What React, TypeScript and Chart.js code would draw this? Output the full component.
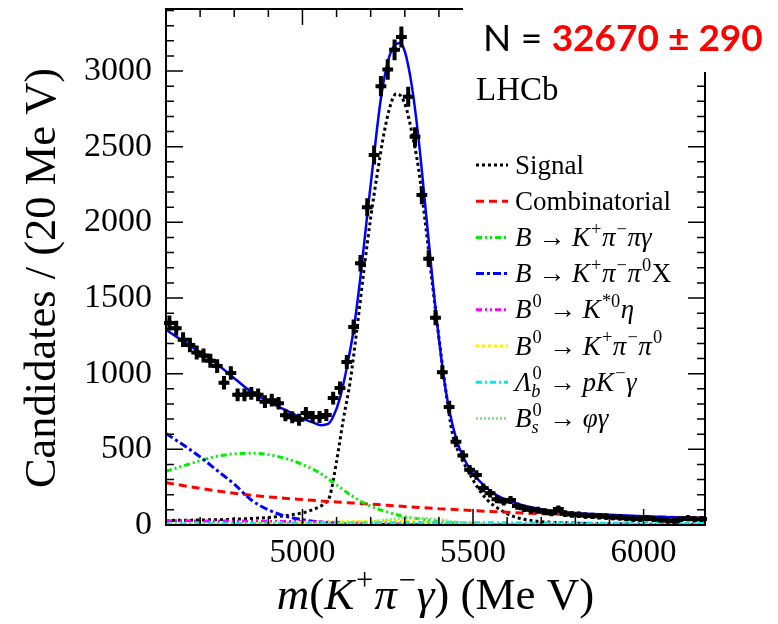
import { useEffect, useRef } from 'react';
import { Chart, registerables } from 'chart.js';

Chart.register(...registerables);

// ---------------- data ----------------
const massBins = [
  4610, 4630, 4650, 4670, 4690, 4710, 4730, 4750, 4770, 4790,
  4810, 4830, 4850, 4870, 4890, 4910, 4930, 4950, 4970, 4990,
  5010, 5030, 5050, 5070, 5090, 5110, 5130, 5150, 5170, 5190,
  5210, 5230, 5250, 5270, 5290, 5310, 5330, 5350, 5370, 5390,
  5410, 5430, 5450, 5470, 5490, 5510, 5530, 5550, 5570, 5590,
  5610, 5630, 5650, 5670, 5690, 5710, 5730, 5750, 5770, 5790,
  5810, 5830, 5850, 5870, 5890, 5910, 5930, 5950, 5970, 5990,
  6010, 6030, 6050, 6070, 6090, 6110, 6130, 6150, 6170,
];
const candidates = [
  1335, 1300, 1225, 1190, 1140, 1120, 1085, 1050, 940, 1005,
  860, 860, 870, 860, 815, 825, 805, 725, 712, 695,
  740, 714, 714, 727, 839, 905, 1077, 1309, 1730, 2100,
  2445, 2900, 3010, 3140, 3225, 2830, 2565, 2180, 1760, 1370,
  1010, 780, 550, 460, 365, 330, 245, 210, 170, 155,
  165, 125, 110, 100, 98, 88, 80, 105, 75, 70,
  68, 62, 60, 58, 55, 52, 50, 45, 42, 40,
  45, 40, 35, 30, 26, 40, 45, 38, 40,
];

const totalFitMass = [4600, 4650, 4700, 4750, 4800, 4850, 4900, 4950, 5000, 5030, 5055, 5075, 5090, 5110, 5130, 5150, 5170, 5190, 5210, 5230, 5250, 5270, 5285, 5300, 5320, 5340, 5360, 5380, 5400, 5420, 5440, 5460, 5480, 5500, 5530, 5560, 5600, 5650, 5700, 5800, 5900, 6000, 6100, 6180];
const totalFitValues = [1290, 1215, 1140, 1062, 970, 880, 815, 760, 705, 678, 660, 668, 715, 840, 1040, 1290, 1640, 2050, 2450, 2820, 3060, 3170, 3185, 3130, 2910, 2560, 2110, 1650, 1230, 890, 660, 510, 410, 340, 265, 210, 165, 128, 105, 80, 68, 58, 50, 45];

const signalMass = [4600, 4700, 4800, 4900, 4960, 5000, 5040, 5060, 5080, 5100, 5120, 5140, 5160, 5180, 5200, 5220, 5240, 5260, 5275, 5290, 5305, 5320, 5340, 5360, 5380, 5400, 5420, 5440, 5460, 5480, 5510, 5540, 5580, 5620, 5660, 5700, 5760, 5850, 6000, 6180];
const signalValues = [30, 33, 38, 50, 65, 80, 110, 135, 190, 420, 700, 950, 1300, 1680, 2030, 2330, 2600, 2790, 2850, 2830, 2750, 2600, 2360, 2000, 1610, 1240, 890, 600, 470, 380, 260, 170, 100, 55, 33, 22, 15, 10, 6, 4];

const combMass = [4600, 4700, 4800, 4900, 5000, 5100, 5200, 5300, 5400, 5500, 5600, 5700, 5800, 5900, 6000, 6100, 6180];
const combValues = [280, 242, 210, 186, 168, 152, 138, 122, 108, 95, 84, 75, 68, 61, 55, 50, 46];

const kpipigMass = [4600, 4650, 4700, 4750, 4800, 4850, 4900, 4950, 5000, 5050, 5100, 5150, 5200, 5250, 5300, 5350, 5400, 5450, 5500, 5550, 5600, 5700, 6180];
const kpipigValues = [355, 390, 425, 455, 470, 475, 465, 440, 400, 345, 265, 185, 125, 85, 55, 38, 25, 15, 9, 4, 1, 0, 0];

const kpipi0xMass = [4600, 4650, 4700, 4750, 4800, 4850, 4900, 4950, 5000, 5050, 5100, 5200, 5300, 5500, 6180];
const kpipi0xValues = [605, 530, 450, 360, 270, 165, 100, 58, 35, 20, 10, 4, 2, 0, 0];

const kstEtaMass = [4600, 4800, 5000, 5100, 5200, 5300, 5400, 5600, 6180];
const kstEtaValues = [28, 26, 22, 18, 12, 6, 2, 0, 0];

const kpipi0Mass = [4600, 4900, 5100, 5200, 5300, 5400, 5500, 5600, 6180];
const kpipi0Values = [5, 10, 20, 26, 24, 12, 4, 0, 0];

const lbMass = [4600, 5000, 5300, 5600, 5900, 6180];
const lbValues = [8, 12, 15, 14, 12, 10];

const bsMass = [4600, 5100, 5150, 5200, 5250, 5300, 5350, 5400, 5450, 5500, 5550, 5600, 6180];
const bsValues = [0, 2, 8, 20, 35, 45, 45, 35, 20, 8, 2, 0, 0];

const xTickLabels = [5000, 5500, 6000];
const yTickLabels = [0, 500, 1000, 1500, 2000, 2500, 3000];
const xMin = 4600;
const xMax = 6180;
const yMax = 3410;
const binHalfWidth = 10;

type Seg = { t: string; it?: boolean; sup?: string; sub?: string };

const legendLabels: Seg[][] = [
  [{ t: 'Signal' }],
  [{ t: 'Combinatorial' }],
  [{ t: 'B', it: true }, { t: ' → ' }, { t: 'K', it: true, sup: '+' }, { t: 'π', it: true, sup: '−' }, { t: 'πγ', it: true }],
  [{ t: 'B', it: true }, { t: ' → ' }, { t: 'K', it: true, sup: '+' }, { t: 'π', it: true, sup: '−' }, { t: 'π', it: true, sup: '0' }, { t: 'X' }],
  [{ t: 'B', it: true, sup: '0' }, { t: ' → ' }, { t: 'K', it: true, sup: '*0' }, { t: 'η', it: true }],
  [{ t: 'B', it: true, sup: '0' }, { t: ' → ' }, { t: 'K', it: true, sup: '+' }, { t: 'π', it: true, sup: '−' }, { t: 'π', it: true, sup: '0' }],
  [{ t: 'Λ', it: true, sub: 'b', sup: '0' }, { t: ' → ' }, { t: 'pK', it: true, sup: '−' }, { t: 'γ', it: true }],
  [{ t: 'B', it: true, sub: 's', sup: '0' }, { t: ' → ' }, { t: 'φγ', it: true }],
];

const xTitle: Seg[] = [
  { t: 'm', it: true }, { t: '(' }, { t: 'K', it: true, sup: '+' }, { t: 'π', it: true, sup: '−' },
  { t: 'γ', it: true }, { t: ') (Me V)' },
];
const yTitle = 'Candidates / (20 Me V)';

const SERIF = "'Liberation Serif', 'DejaVu Serif', serif";

type Style = { color: string; dash: number[]; width: number };
const styles: Style[] = [
  { color: '#000000', dash: [3, 3], width: 3 }, // signal
  { color: '#ff0000', dash: [8, 5], width: 3 }, // comb
  { color: '#00ee00', dash: [6, 3, 2, 3, 2, 3], width: 3 },
  { color: '#0000ff', dash: [8, 3, 3, 3], width: 3 },
  { color: '#ff00ff', dash: [6, 3, 2, 3, 2, 3], width: 3 },
  { color: '#ffee00', dash: [3, 3], width: 3 },
  { color: '#00e8e8', dash: [6, 3, 2, 3], width: 3 },
  { color: '#90dd90', dash: [2, 2], width: 3 },
];
const componentMasses = [signalMass, combMass, kpipigMass, kpipi0xMass, kstEtaMass, kpipi0Mass, lbMass, bsMass];
const componentValues = [signalValues, combValues, kpipigValues, kpipi0xValues, kstEtaValues, kpipi0Values, lbValues, bsValues];

function fontOf(it: boolean | undefined, size: number) {
  return `${it ? 'italic ' : ''}${size}px ${SERIF}`;
}

function segExtra(ctx: CanvasRenderingContext2D, s: Seg, F: number) {
  let sw = 0;
  if (s.sup) { ctx.font = fontOf(false, 0.68 * F); sw = Math.max(sw, ctx.measureText(s.sup).width); }
  if (s.sub) { ctx.font = fontOf(true, 0.68 * F); sw = Math.max(sw, ctx.measureText(s.sub).width); }
  return sw ? sw + 0.06 * F : 0;
}

function measureRich(ctx: CanvasRenderingContext2D, segs: Seg[], F: number) {
  let w = 0;
  for (const s of segs) {
    ctx.font = fontOf(s.it, F);
    w += ctx.measureText(s.t).width;
    w += segExtra(ctx, s, F);
  }
  return w;
}

function drawRich(ctx: CanvasRenderingContext2D, segs: Seg[], x: number, y: number, F: number, align: 'left' | 'center') {
  let cx = align === 'center' ? x - measureRich(ctx, segs, F) / 2 : x;
  ctx.textAlign = 'left';
  ctx.textBaseline = 'alphabetic';
  for (const s of segs) {
    ctx.font = fontOf(s.it, F);
    ctx.fillText(s.t, cx, y);
    cx += ctx.measureText(s.t).width;
    const extra = segExtra(ctx, s, F);
    if (s.sup) { ctx.font = fontOf(false, 0.68 * F); ctx.fillText(s.sup, cx + 0.04 * F, y - 0.42 * F); }
    if (s.sub) { ctx.font = fontOf(true, 0.68 * F); ctx.fillText(s.sub, cx + 0.0 * F, y + 0.24 * F); }
    cx += extra;
  }
}

const decorPlugin = {
  id: 'decor',
  afterDatasetsDraw(chart: any) {
    const { ctx, chartArea: a, scales } = chart;
    const x = scales.x, y = scales.y;
    ctx.save();
    // error bars
    ctx.strokeStyle = '#000';
    ctx.fillStyle = '#000';
    ctx.lineWidth = 4;
    ctx.lineCap = 'square';
    ctx.setLineDash([]);
    massBins.forEach((m, i) => {
      const v = candidates[i];
      const e = Math.sqrt(v);
      const px = x.getPixelForValue(m), py = y.getPixelForValue(v);
      ctx.beginPath();
      ctx.moveTo(x.getPixelForValue(m - binHalfWidth), py);
      ctx.lineTo(x.getPixelForValue(m + binHalfWidth), py);
      ctx.moveTo(px, y.getPixelForValue(v - e));
      ctx.lineTo(px, y.getPixelForValue(v + e));
      ctx.stroke();
    });
    ctx.lineCap = 'butt';
    // frame
    ctx.lineWidth = 2;
    ctx.strokeRect(a.left, a.top, a.right - a.left, a.bottom - a.top);
    ctx.lineWidth = 1.5;
    ctx.beginPath();
    for (let v = xMin; v <= xMax; v += 100) {
      const px = x.getPixelForValue(v);
      const len = v % 500 === 0 ? 16 : 8;
      ctx.moveTo(px, a.bottom); ctx.lineTo(px, a.bottom - len);
      ctx.moveTo(px, a.top); ctx.lineTo(px, a.top + len);
    }
    for (let v = 0; v <= yMax; v += 100) {
      const py = y.getPixelForValue(v);
      const len = v % 500 === 0 ? 17 : 8;
      ctx.moveTo(a.left, py); ctx.lineTo(a.left + len, py);
      ctx.moveTo(a.right, py); ctx.lineTo(a.right - len, py);
    }
    ctx.stroke();
    ctx.restore();
  },
  afterDraw(chart: any) {
    const { ctx, chartArea: a } = chart;
    ctx.save();
    // white patch behind the yield label
    ctx.fillStyle = '#fff';
    ctx.fillRect(463, 0, 315, 72);
    // yield label
    ctx.textBaseline = 'alphabetic';
    ctx.textAlign = 'left';
    ctx.fillStyle = '#000';
    ctx.font = "37px Lato, 'Open Sans', sans-serif";
    const nText = 'N = ';
    ctx.fillText(nText, 483, 51);
    const nw = ctx.measureText(nText).width;
    ctx.fillStyle = '#ff0000';
    ctx.font = "bold 37px Lato, 'Open Sans', sans-serif";
    ctx.fillText('32670 ± 290', 483 + nw, 51);
    // LHCb
    ctx.fillStyle = '#000';
    ctx.font = fontOf(false, 33);
    ctx.fillText('LHCb', 476, 100);
    // legend
    legendLabels.forEach((segs, i) => {
      const cy = 165 + i * 36.2;
      const st = styles[i];
      ctx.strokeStyle = st.color;
      ctx.lineWidth = st.width;
      ctx.setLineDash(st.dash);
      ctx.beginPath();
      ctx.moveTo(476, cy);
      ctx.lineTo(508, cy);
      ctx.stroke();
      ctx.setLineDash([]);
      ctx.fillStyle = '#000';
      drawRich(ctx, segs, 515, cy + 8.5, 27, 'left');
    });
    // axis titles
    ctx.fillStyle = '#000';
    drawRich(ctx, xTitle, (a.left + a.right) / 2, 609, 45, 'center');
    ctx.translate(55, 278);
    ctx.rotate(-Math.PI / 2);
    ctx.font = fontOf(false, 44.5);
    ctx.textAlign = 'center';
    ctx.fillText(yTitle, 0, 0);
    ctx.restore();
  },
};

export default function App() {
  const ref = useRef<HTMLCanvasElement | null>(null);
  useEffect(() => {
    if (!ref.current) return;
    const datasets: any[] = [];
    datasets.push({
      label: 'Data',
      data: massBins.map((m, i) => ({ x: m, y: candidates[i] })),
      showLine: false,
      pointStyle: 'circle',
      pointRadius: 3,
      pointBackgroundColor: '#000',
      pointBorderColor: '#000',
      pointBorderWidth: 0,
      order: 1,
    });
    datasets.push({
      label: 'Total fit',
      data: totalFitMass.map((m, i) => ({ x: m, y: totalFitValues[i] })),
      showLine: true,
      borderColor: '#0000ff',
      borderWidth: 2.5,
      pointRadius: 0,
      cubicInterpolationMode: 'monotone',
      order: 2,
    });
    componentMasses.forEach((ms, k) => {
      datasets.push({
        label: 'comp' + k,
        data: ms.map((m, i) => ({ x: m, y: componentValues[k][i] })),
        showLine: true,
        borderColor: styles[k].color,
        borderWidth: styles[k].width,
        borderDash: styles[k].dash,
        pointRadius: 0,
        cubicInterpolationMode: 'monotone',
        order: 20 - k,
      });
    });
    const chart = new Chart(ref.current, {
      type: 'scatter',
      data: { datasets },
      options: {
        animation: false,
        responsive: false,
        devicePixelRatio: 1,
        layout: { padding: { top: 9, right: 73, left: 0, bottom: 0 } },
        plugins: { legend: { display: false }, tooltip: { enabled: false }, title: { display: false } },
        scales: {
          x: {
            type: 'linear', min: xMin, max: xMax,
            grid: { display: false, drawTicks: false },
            border: { display: false },
            ticks: { color: '#000', font: { family: SERIF, size: 33 }, padding: 9, maxRotation: 0, autoSkip: false, callback: (v: any) => String(v) },
            afterBuildTicks: (s: any) => { s.ticks = xTickLabels.map((value) => ({ value })); },
            afterFit: (s: any) => { s.height = 99; s.paddingLeft = 0; s.paddingRight = 0; },
          },
          y: {
            type: 'linear', min: 0, max: yMax,
            grid: { display: false, drawTicks: false },
            border: { display: false },
            ticks: { color: '#000', font: { family: SERIF, size: 34 }, padding: 14, autoSkip: false, callback: (v: any) => String(v) },
            afterBuildTicks: (s: any) => { s.ticks = yTickLabels.map((value) => ({ value })); },
            afterFit: (s: any) => { s.width = 166; s.paddingTop = 0; s.paddingBottom = 0; },
          },
        },
      } as any,
      plugins: [decorPlugin],
    });
    return () => chart.destroy();
  }, []);
  return (
    <div style={{ position: 'fixed', left: 0, top: 0, width: 778, height: 624, background: '#fff' }}>
      <canvas ref={ref} width={778} height={624} style={{ width: 778, height: 624 }} />
    </div>
  );
}
